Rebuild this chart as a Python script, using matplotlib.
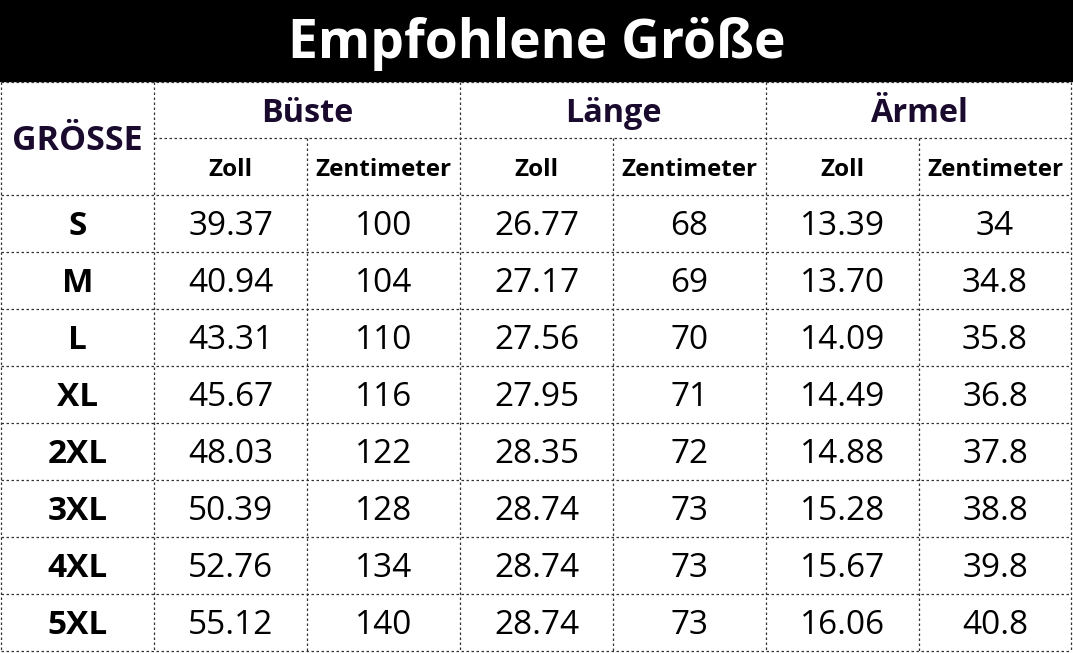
import matplotlib.pyplot as plt

# table data
sizes = ["S", "M", "L", "XL", "2XL", "3XL", "4XL", "5XL"]
bust_in = ["39.37", "40.94", "43.31", "45.67", "48.03", "50.39", "52.76", "55.12"]
bust_cm = ["100", "104", "110", "116", "122", "128", "134", "140"]
length_in = ["26.77", "27.17", "27.56", "27.95", "28.35", "28.74", "28.74", "28.74"]
length_cm = ["68", "69", "70", "71", "72", "73", "73", "73"]
sleeve_in = ["13.39", "13.70", "14.09", "14.49", "14.88", "15.28", "15.67", "16.06"]
sleeve_cm = ["34", "34.8", "35.8", "36.8", "37.8", "38.8", "39.8", "40.8"]
groups = ["Büste", "Länge", "Ärmel"]
units = ["Zoll", "Zentimeter"]
title = "Empfohlene Größe"
size_header = "GRÖSSE"

font = "Open Sans"
head_color = "#1a0b2e"
line_kw = dict(color="#333333", lw=0.9, linestyle=(0, (2, 2)))

W, H = 1073, 653
fig = plt.figure(figsize=(W / 100, H / 100), dpi=100)
ax = fig.add_axes([0, 0, 1, 1])
ax.set_xlim(0, W)
ax.set_ylim(H, 0)
ax.axis("off")

# title band
ax.add_patch(plt.Rectangle((0, 0), W, 81, color="black"))
ax.text(W / 2, 44, title, ha="center", va="center", color="white",
        fontsize=38.5, fontweight="bold", family=font)

col_w = 153
xs = [1 + i * col_w for i in range(8)]
xs[-1] = 1071
head_top, head_mid, head_bot = 82, 138, 195
row_h = 57
ys = [head_bot + i * row_h for i in range(len(sizes) + 1)]

# grid lines
ax.plot([xs[0], xs[-1]], [head_top, head_top], **line_kw)
ax.plot([xs[1], xs[-1]], [head_mid, head_mid], **line_kw)
for y in ys:
    ax.plot([xs[0], xs[-1]], [y, y], **line_kw)
for i, x in enumerate(xs):
    top = head_mid if i in (2, 4, 6) else head_top
    ax.plot([x, x], [top, ys[-1]], **line_kw)

# headers
ax.text((xs[0] + xs[1]) / 2, (head_top + head_bot) / 2 + 2, size_header, ha="center", va="center",
        fontsize=24.5, fontweight="bold", color=head_color, family=font)
for g, name in enumerate(groups):
    x0 = xs[1 + 2 * g]
    ax.text(x0 + col_w, (head_top + head_mid) / 2 + 3, name, ha="center", va="center",
            fontsize=23.3, fontweight="bold", color=head_color, family=font)
    for u, unit in enumerate(units):
        ax.text(x0 + col_w * u + col_w / 2, (head_mid + head_bot) / 2 + 3, unit, ha="center", va="center",
                fontsize=17.5, fontweight="bold", color="black", family=font)

# body
columns = [bust_in, bust_cm, length_in, length_cm, sleeve_in, sleeve_cm]
for r, s in enumerate(sizes):
    yc = (ys[r] + ys[r + 1]) / 2 + 3
    ax.text((xs[0] + xs[1]) / 2, yc, s, ha="center", va="center",
            fontsize=24, fontweight="bold", color="black", family=font)
    for c, col in enumerate(columns):
        ax.text((xs[c + 1] + xs[c + 2]) / 2, yc, col[r], ha="center", va="center",
                fontsize=24, color="black", family=font)

fig.savefig("out.png", dpi=100, facecolor="white")
